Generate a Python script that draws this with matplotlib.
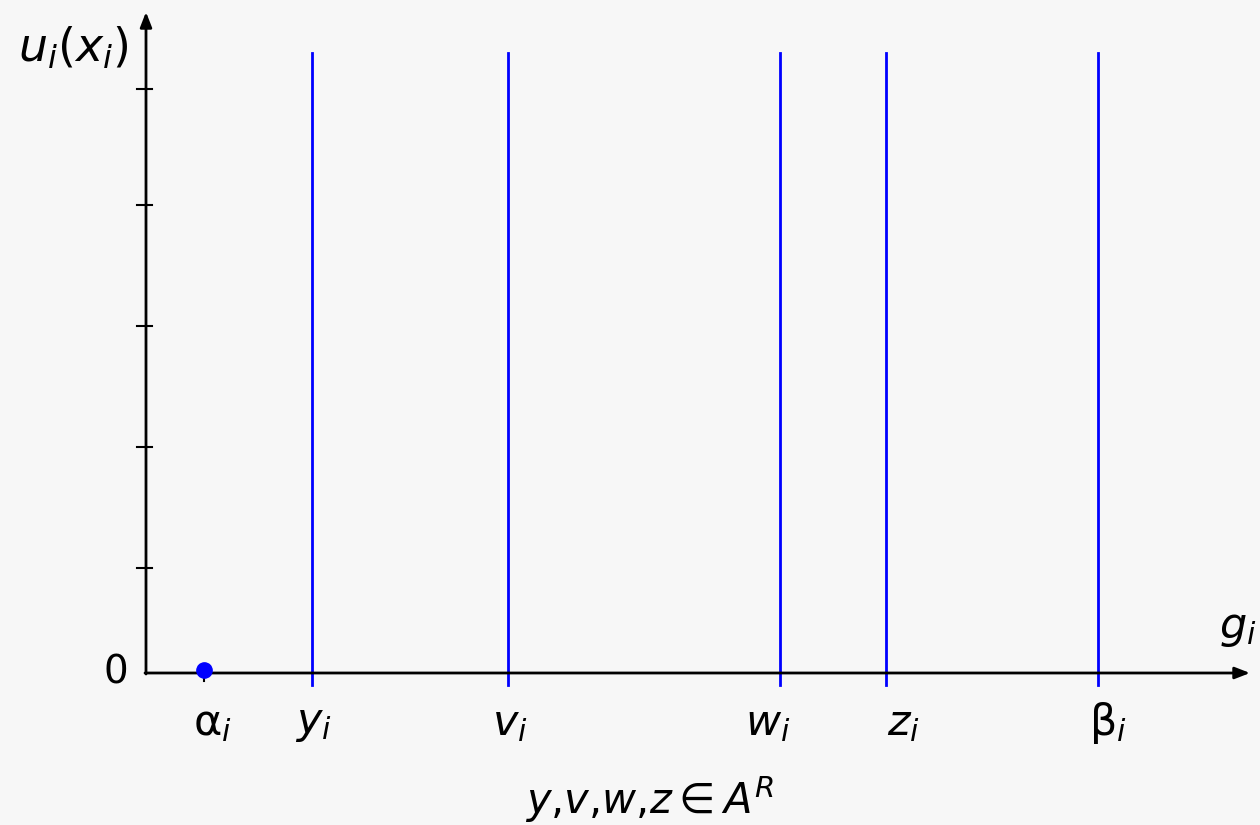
import numpy as np
import matplotlib
matplotlib.use('Agg')
import matplotlib.pyplot as plt

plt.rcParams['mathtext.fontset'] = 'dejavusans'
plt.rcParams['font.family'] = ['DejaVu Sans']

# abstract positions along g_i (origin = 0)
point_names = [r'$\mathrm{\alpha}_i$', r'$y_i$', r'$v_i$', r'$w_i$', r'$z_i$', r'$\mathrm{\beta}_i$']
point_x = [58, 166, 362, 634, 740, 952]
vline_x = [166, 362, 634, 740, 952]
vline_top = 620
dot_x, dot_y = 58, 3
ytick_vals = [105, 226, 347, 468, 584]
label_dx = [8, 1, 2, -12, 17, 10]

bg = '#f7f7f7'
fig = plt.figure(figsize=(12.6, 8.25), dpi=100, facecolor=bg)
ax = fig.add_axes([146/1260, 152/825, 1104/1260, 661/825])
ax.set_facecolor(bg)
ax.set_xlim(0, 1104)
ax.set_ylim(0, 661)
for s in ax.spines.values():
    s.set_visible(False)
ax.set_xticks([])
ax.set_yticks([])

# axes with arrows
ax.annotate('', xy=(1104, 0), xytext=(-1, 0), xycoords='data',
            arrowprops=dict(arrowstyle='-|>,head_length=0.9,head_width=0.35', color='black', lw=2,
                            shrinkA=0, shrinkB=0), annotation_clip=False)
ax.annotate('', xy=(0, 661), xytext=(0, -1), xycoords='data',
            arrowprops=dict(arrowstyle='-|>,head_length=0.9,head_width=0.35', color='black', lw=2,
                            shrinkA=0, shrinkB=0), annotation_clip=False)

# y ticks crossing the axis
for t in ytick_vals:
    ax.plot([-9, 6], [t, t], color='black', lw=1.5, clip_on=False)
# tick below alpha
ax.plot([point_x[0], point_x[0]], [0, -8], color='black', lw=1.5, clip_on=False)

# vertical blue lines
for x in vline_x:
    ax.plot([x, x], [-12, vline_top], color='blue', lw=2, clip_on=False)

ax.plot([dot_x], [dot_y], 'o', color='blue', ms=11, clip_on=False, zorder=5)

for name, x, dx in zip(point_names, point_x, label_dx):
    ax.text(x + dx, -50, name, fontsize=31, ha='center', va='center')

ax.text(-30, 0, '0', fontsize=28, ha='center', va='center')
ax.text(-73, 625, r'$u_i(x_i)$', fontsize=33, ha='center', va='center')
ax.text(1092, 45, r'$g_i$', fontsize=31, ha='center', va='center')
ax.text(504, -127, r'$y{,}v{,}w{,}z{\in}A^R$', fontsize=30, ha='center', va='center')

fig.savefig('out.png', dpi=100, facecolor=bg)
